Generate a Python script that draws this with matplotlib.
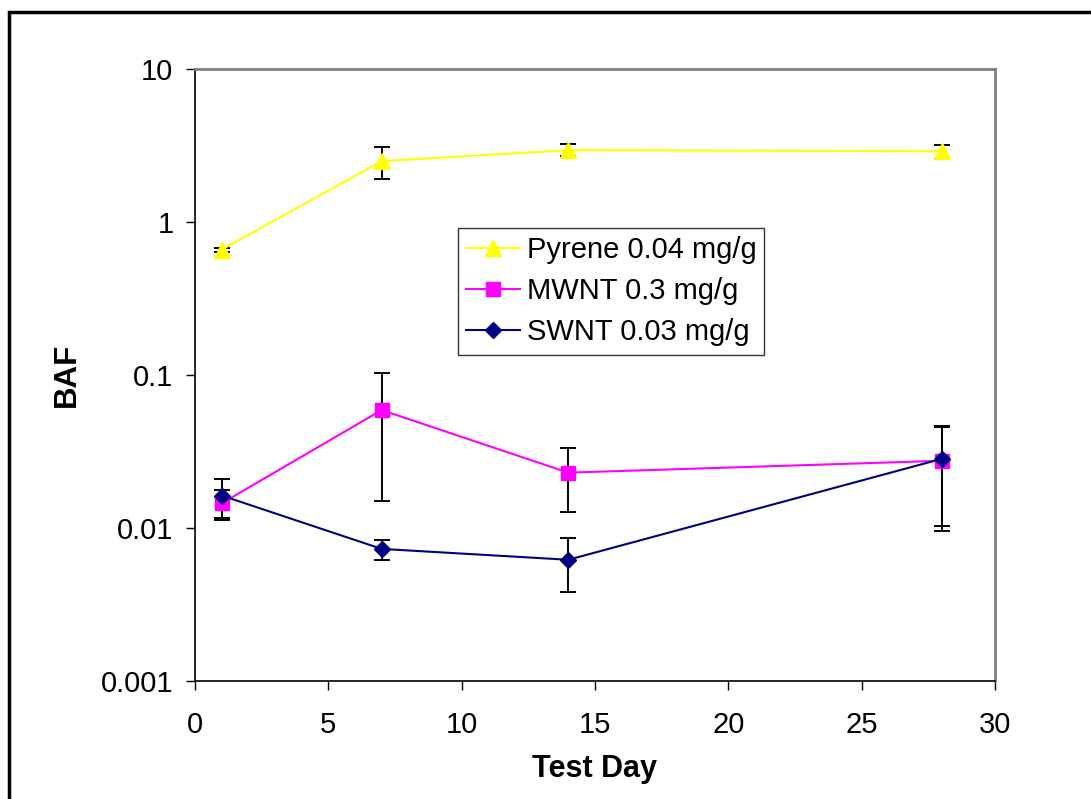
import matplotlib
matplotlib.use("Agg")
import matplotlib.pyplot as plt
from matplotlib.patches import Rectangle
from matplotlib.ticker import FixedLocator, FixedFormatter, NullLocator

plt.rcParams['font.family'] = ['Liberation Sans', 'DejaVu Sans']

# Bioaccumulation factors by test day
days = [1, 7, 14, 28]
pyrene = [0.66, 2.5, 2.95, 2.9]
pyrene_err = [0.02, 0.6, 0.27, 0.3]
mwnt = [0.0145, 0.059, 0.023, 0.0275]
mwnt_err = [0.0032, 0.044, 0.0102, 0.018]
swnt = [0.0163, 0.0073, 0.0062, 0.0283]
swnt_err = [0.0047, 0.0011, 0.0024, 0.018]

series_labels = ["Pyrene 0.04 mg/g", "MWNT 0.3 mg/g", "SWNT 0.03 mg/g"]
y_ticks = [0.001, 0.01, 0.1, 1, 10]
y_tick_labels = ["0.001", "0.01", "0.1", "1", "10"]
x_ticks = [0, 5, 10, 15, 20, 25, 30]

W, H = 1091, 799
fig = plt.figure(figsize=(W / 100, H / 100), dpi=100)
ax = fig.add_axes([195 / W, 1 - 681 / H, 800 / W, 612 / H])

# Outer chart border (runs off the right and bottom edges)
fig.patches.append(Rectangle((9 / W, -0.05), 1.2, 1 - 12 / H + 0.05,
                             transform=fig.transFigure, fill=False,
                             edgecolor='black', linewidth=2.5, zorder=0))

styles = [
    (pyrene, pyrene_err, '#FFFF00', '^', 11.5),
    (mwnt, mwnt_err, '#FF00FF', 's', 10),
    (swnt, swnt_err, '#000080', 'D', 8.5),
]

handles = []
for (vals, errs, color, marker, ms), label in zip(styles, series_labels):
    ax.errorbar(days, vals, yerr=errs, fmt='none', ecolor='black',
                elinewidth=1.4, capsize=6, capthick=1.4, zorder=2)
    h, = ax.plot(days, vals, color=color, marker=marker, markersize=ms,
                 markeredgecolor=color, linewidth=1.5, label=label, zorder=3)
    handles.append(h)

ax.set_yscale('log')
ax.set_xlim(0, 30)
ax.set_ylim(0.001, 10)
ax.yaxis.set_major_locator(FixedLocator(y_ticks))
ax.yaxis.set_major_formatter(FixedFormatter(y_tick_labels))
ax.yaxis.set_minor_locator(NullLocator())
ax.set_xticks(x_ticks)

ax.tick_params(axis='both', which='major', direction='out', length=6.5,
               width=1.0, labelsize=21, colors='black')
ax.tick_params(axis='y', pad=9)
ax.tick_params(axis='x', pad=15)

for side in ('left', 'bottom'):
    ax.spines[side].set_color('black')
    ax.spines[side].set_linewidth(1.2)
for side in ('top', 'right'):
    ax.spines[side].set_color('#808080')
    ax.spines[side].set_linewidth(2)

ax.set_xlabel("Test Day", fontsize=22, fontweight='bold', labelpad=11)
ax.set_ylabel("BAF", fontsize=22.5, fontweight='bold', labelpad=14)

leg = ax.legend(handles=handles, loc='upper left',
                bbox_to_anchor=((458 - 195) / 800, 1 - (228 - 69) / 612),
                fontsize=21, frameon=True, fancybox=False, handlelength=1.85,
                handletextpad=0.22, borderpad=0.28, labelspacing=0.45,
                borderaxespad=0)
leg.get_frame().set_edgecolor('black')
leg.get_frame().set_linewidth(1.0)

fig.savefig("out.png", dpi=100)
